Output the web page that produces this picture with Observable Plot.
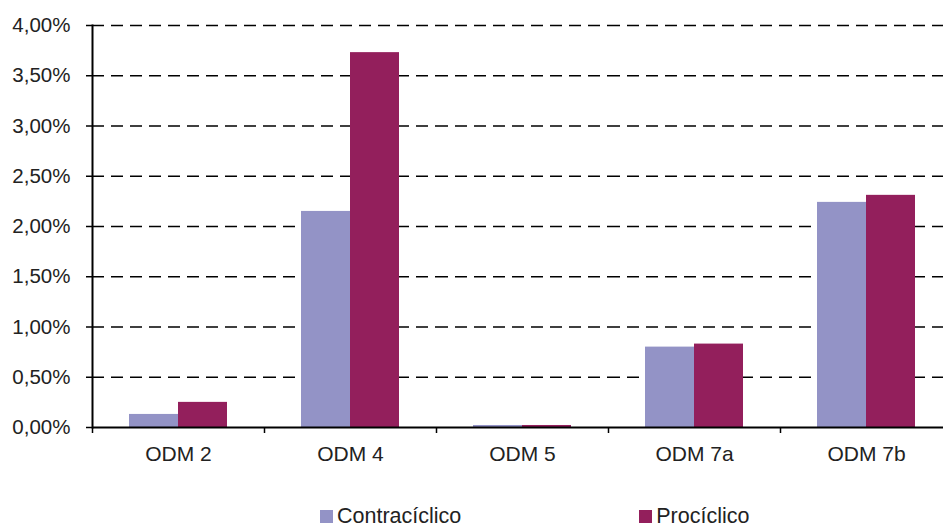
<!DOCTYPE html>
<html>
<head>
<meta charset="utf-8">
<script src="https://cdn.jsdelivr.net/npm/d3@7"></script>
<script src="https://cdn.jsdelivr.net/npm/@observablehq/plot@0.6"></script>
<style>
  html, body { margin: 0; padding: 0; background: #fff; overflow: hidden; }
  body { width: 943px; height: 527px; font-family: "Liberation Sans", Arial, sans-serif; color: #222; }
  #legend { display: flex; gap: 178px; margin-left: 320px; margin-top: 35px; font-size: 21.5px; line-height: 22px; }
  #legend .item { display: flex; align-items: center; }
  #legend .sw { width: 13px; height: 13px; margin-right: 4px; }
</style>
</head>
<body>
<div id="chart"></div>
<div id="legend"></div>
<script>
// Share of each goal, by cycle type (percent)
const categories = ["ODM 2", "ODM 4", "ODM 5", "ODM 7a", "ODM 7b"];
const series = ["Contracíclico", "Procíclico"];
const contraciclico = [0.13, 2.15, 0.02, 0.80, 2.24];
const prociclico = [0.25, 3.73, 0.02, 0.83, 2.31];
const yTicks = [0, 0.5, 1, 1.5, 2, 2.5, 3, 3.5, 4];
const colors = ["#9393c6", "#931f5c"];

const rows = categories.flatMap((c, i) => [
  {cat: c, serie: series[0], value: contraciclico[i]},
  {cat: c, serie: series[1], value: prociclico[i]}
]);

const width = 943, marginLeft = 92, marginRight = -9;
const step = (width - marginRight - marginLeft) / categories.length;
const fmt = d => d.toFixed(2).replace(".", ",") + "%";

const chart = Plot.plot({
  width,
  height: 470,
  marginLeft,
  marginRight,
  marginTop: 25,
  marginBottom: 43,
  style: {fontFamily: "'Liberation Sans', Arial, sans-serif", fontSize: "20px", color: "#222", background: "#fff"},
  fx: {domain: categories, paddingInner: 0, paddingOuter: 0, label: null},
  x: {domain: series, paddingInner: 0, paddingOuter: 0.737, axis: null},
  y: {domain: [0, 4], label: null},
  color: {domain: series, range: colors},
  marks: [
    Plot.gridY(yTicks.slice(1), {stroke: "#000", strokeOpacity: 1, strokeWidth: 1.5, strokeDasharray: "12,7"}),
    Plot.barY(rows, {fx: "cat", x: "serie", y: "value", fill: "serie"}),
    Plot.ruleY([0], {stroke: "#000", strokeWidth: 2}),
    Plot.frame({anchor: "left", facetAnchor: "left", stroke: "#000", strokeWidth: 2}),
    Plot.axisY({ticks: yTicks, tickFormat: fmt, tickSize: 6, tickPadding: 16, strokeWidth: 1.5, stroke: "#000", fill: "#222", fontSize: 20.5}),
    Plot.axisFx({anchor: "bottom", tickSize: 0, tickPadding: 19, label: null, fill: "#222", fontSize: 21}),
    Plot.axisFx({anchor: "bottom", tickSize: 6, tickFormat: () => "", label: null, dx: -step / 2, stroke: "#000", strokeWidth: 1.5})
  ]
});
document.getElementById("chart").append(chart);

const legend = document.getElementById("legend");
series.forEach((s, i) => {
  const item = document.createElement("div");
  item.className = "item";
  const sw = document.createElement("span");
  sw.className = "sw";
  sw.style.background = colors[i];
  const label = document.createElement("span");
  label.textContent = s;
  item.append(sw, label);
  legend.append(item);
});
</script>
</body>
</html>
